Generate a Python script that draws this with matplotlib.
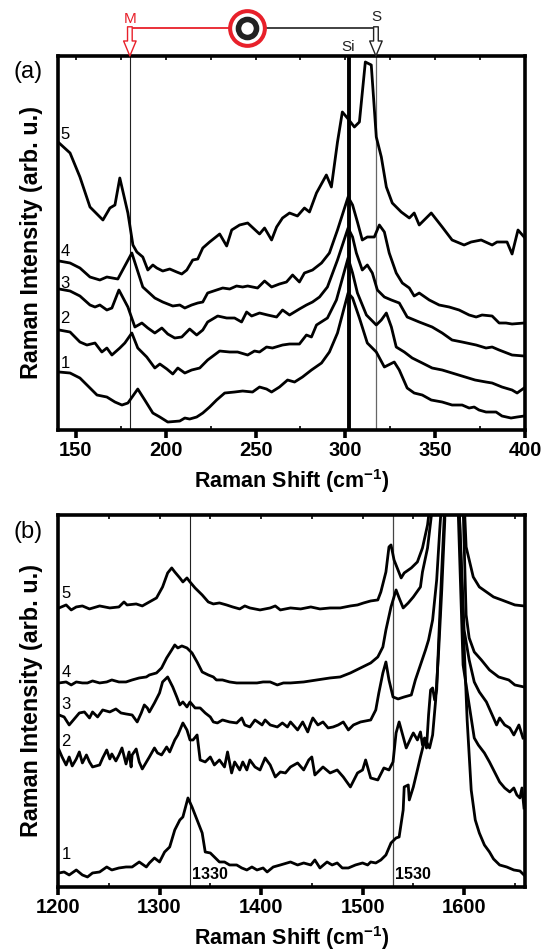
import matplotlib
matplotlib.use("Agg")
import matplotlib.pyplot as plt
import matplotlib.transforms as mtransforms

plt.rcParams['font.family'] = ['Liberation Sans', 'DejaVu Sans']
plt.rcParams['mathtext.fontset'] = 'custom'
plt.rcParams['mathtext.rm'] = 'Liberation Sans'
plt.rcParams['mathtext.bf'] = 'Liberation Sans:bold'

# ---- panel (a): low frequency region, spectra 1..5 (offset, arb. units)
a_x5 = [140.6, 146.7, 152.2, 157.8, 165, 168.9, 171.7, 174.4, 178.9, 181.7, 183.9, 187.2, 190, 192.8, 195, 198.3,
        202.2, 206.1, 208.9, 211.7, 215, 217.8, 220.6, 224.4, 230, 233.9, 236.7, 241.1, 245.6, 252.2, 255, 258.9,
        261.7, 265, 268.9, 273.3, 277.2, 280, 283.9, 289.4, 292.2, 295.6, 298.3, 301.1, 305, 307.8, 311.1, 314.4,
        317.2, 320, 322.8, 326.1, 331.1, 335.6, 338.3, 341.1, 347.8, 353.9, 359.4, 366.1, 370, 375.6, 381.7, 384.4,
        390, 392.8, 396.1, 399.5]
a_y5 = [287, 277, 253, 223, 210, 222, 225, 252, 217, 185, 178, 173, 160, 165, 162, 159, 161, 158, 156, 160, 170, 171,
        182, 188, 196, 184, 200, 205, 207, 196, 202, 190, 203, 212, 217, 214, 222, 218, 237, 255, 243, 288, 318, 312,
        303, 308, 368, 365, 293, 273, 243, 227, 218, 212, 217, 205, 217, 203, 190, 185, 188, 190, 185, 188, 188, 176,
        200, 193]

a_x4 = [140.6, 146.7, 152.2, 157.8, 163.3, 167.2, 173.3, 181.1, 187.2, 193.9, 198.3, 203.9, 207.8, 210.6, 214.4,
        217.8, 220.6, 223.3, 228.3, 231.7, 235.6, 239.4, 242.8, 245.6, 251.1, 255, 258.9, 263.3, 267.2, 270.6, 274.4,
        277.2, 281.7, 286.7, 291.1, 295.6, 301.5, 304, 306.7, 309.4, 312.2, 316.1, 318.9, 321.7, 324.4, 328.3, 331.7,
        335.6, 338.3, 341.1, 346.7, 352.2, 357.8, 363.3, 368.9, 372.8, 376.1, 381.7, 385.6, 389.4, 392.8, 399.5]
a_y4 = [169, 167, 162, 153, 150, 153, 151, 177, 143, 132, 128, 124, 125, 122, 125, 127, 128, 137, 140, 142, 141, 144,
        143, 144, 142, 149, 143, 146, 148, 155, 148, 157, 160, 167, 177, 200, 233, 225, 208, 190, 193, 193, 205, 198,
        177, 157, 147, 142, 134, 137, 130, 125, 123, 120, 115, 113, 115, 114, 107, 107, 106, 107]

a_x3 = [140.6, 146.7, 152.2, 157.8, 160.6, 163.3, 167.2, 170, 173.9, 178.9, 182.8, 186.7, 190, 193.9, 197.8, 201.1,
        205, 208.9, 213.3, 217.2, 220.6, 223.3, 228.9, 233.9, 238.3, 242.2, 245, 247.8, 252.2, 256.7, 261.7, 265,
        268.9, 274.4, 278.3, 281.7, 285.6, 290, 295.6, 301.5, 304, 306.1, 309.4, 312.2, 315, 317.8, 321.7, 325.6, 330,
        334.4, 341.1, 348.3, 353.9, 359.4, 365, 372.8, 378.3, 381.7, 385.6, 392.8, 399.5]
a_y3 = [141, 139, 134, 125, 123, 125, 120, 122, 140, 123, 103, 107, 102, 97, 102, 96, 92, 93, 101, 95, 100, 108, 114,
        112, 112, 108, 118, 114, 117, 115, 113, 120, 115, 121, 125, 128, 133, 143, 170, 202, 193, 177, 160, 165, 157,
        140, 133, 130, 127, 113, 108, 103, 97, 90, 88, 85, 82, 83, 80, 75, 74]

a_x2 = [140.6, 146.7, 152.2, 156.1, 160.6, 164.4, 167.2, 170, 174.4, 177.2, 181.1, 184.4, 189.4, 193.9, 196.7, 200.6,
        203.9, 206.7, 210.6, 214.4, 218.9, 223.3, 230, 235.6, 240, 245.6, 249.4, 252.2, 256.1, 259.4, 265, 268.9,
        274.4, 278.3, 281.1, 283.9, 290, 295, 301.5, 304, 306.7, 311.7, 317.2, 320, 322.8, 325.6, 328.3, 332.8, 337.2,
        342.8, 348.3, 353.9, 359.4, 366.7, 372.2, 378.3, 381.7, 387.2, 392.8, 395.6, 399.5]
a_y2 = [100, 98, 88, 85, 87, 78, 82, 75, 82, 87, 97, 82, 73, 62, 66, 61, 56, 62, 57, 60, 62, 70, 79, 78, 78, 75, 79,
        78, 83, 82, 85, 86, 86, 95, 93, 105, 112, 130, 172, 157, 137, 115, 105, 110, 117, 103, 83, 78, 72, 67, 62, 60,
        57, 53, 50, 48, 47, 43, 40, 37, 42]

a_x1 = [140.6, 146.7, 152.2, 157.8, 161.7, 167.2, 171.7, 175.6, 178.9, 184.4, 188.3, 192.8, 196.7, 201.1, 207.8,
        210.6, 213.3, 217.2, 220.6, 224.4, 228.3, 232.8, 238.3, 242.8, 248.3, 252.2, 256.1, 258.9, 263.3, 267.8, 271.7,
        276.1, 281.1, 286.7, 291.1, 295.6, 301.5, 304, 307.8, 312.2, 317.2, 321.7, 327.2, 330, 334.4, 338.3, 342.8,
        347.8, 353.9, 359.4, 365, 368.9, 371.7, 374.4, 378.3, 383.9, 387.2, 392.2, 395.6, 399.5]
a_y1 = [58, 57, 52, 42, 35, 33, 28, 25, 27, 41, 30, 17, 13, 8, 9, 12, 11, 13, 17, 23, 30, 37, 38, 39, 38, 43, 41, 38,
        43, 50, 48, 53, 60, 67, 78, 97, 137, 132, 112, 87, 78, 63, 68, 60, 42, 37, 35, 30, 28, 25, 25, 22, 23, 20, 18,
        18, 14, 12, 13, 14]

# ---- panel (b): D / G band region
b_x5 = [1201, 1208, 1213, 1218, 1224, 1231, 1241, 1251, 1260, 1265, 1268, 1277, 1283, 1290, 1297, 1303, 1308, 1312,
        1315, 1320, 1323, 1327, 1330, 1335, 1342, 1348, 1353, 1359, 1366, 1372, 1379, 1384, 1389, 1399, 1409, 1414,
        1419, 1429, 1439, 1449, 1458, 1468, 1478, 1488, 1495, 1501, 1508, 1515, 1518, 1523, 1526, 1528, 1531, 1538,
        1541, 1548, 1554, 1559, 1564, 1567, 1585, 1600, 1602, 1609, 1615, 1622, 1629, 1637, 1650, 1659]
b_y5 = [279, 282, 277, 280, 281, 278, 281, 279, 280, 285, 282, 283, 281, 285, 289, 300, 314, 319, 315, 309, 305, 309,
        305, 299, 292, 285, 283, 284, 282, 280, 278, 281, 279, 277, 279, 281, 277, 279, 278, 280, 278, 279, 279, 281,
        282, 284, 286, 287, 295, 315, 340, 342, 327, 309, 314, 319, 325, 339, 362, 387, 1500, 387, 340, 310, 300, 295,
        290, 287, 282, 281]

b_x4 = [1201, 1208, 1213, 1218, 1224, 1229, 1234, 1241, 1248, 1253, 1260, 1267, 1273, 1280, 1287, 1290, 1297, 1302,
        1307, 1312, 1315, 1318, 1322, 1327, 1332, 1337, 1342, 1348, 1353, 1356, 1362, 1369, 1376, 1382, 1389, 1396,
        1402, 1409, 1416, 1422, 1429, 1442, 1455, 1468, 1478, 1488, 1498, 1508, 1515, 1520, 1523, 1528, 1533, 1536,
        1540, 1545, 1550, 1557, 1559, 1564, 1569, 1585, 1599, 1602, 1605, 1610, 1617, 1625, 1634, 1644, 1650, 1659]
b_y4 = [204, 205, 202, 205, 204, 204, 206, 204, 205, 207, 205, 205, 207, 209, 210, 212, 214, 219, 229, 237, 242, 239,
        241, 239, 234, 225, 215, 212, 210, 207, 207, 205, 204, 204, 204, 204, 205, 205, 202, 204, 204, 205, 207, 209,
        210, 214, 219, 224, 230, 240, 257, 280, 297, 289, 279, 284, 290, 300, 315, 339, 382, 1500, 382, 272, 249, 235,
        227, 217, 210, 207, 202, 200]

b_x3 = [1201, 1206, 1211, 1216, 1221, 1226, 1231, 1234, 1239, 1244, 1251, 1257, 1262, 1267, 1273, 1278, 1282, 1285,
        1288, 1290, 1295, 1300, 1303, 1308, 1313, 1317, 1320, 1323, 1327, 1330, 1335, 1340, 1345, 1350, 1353, 1357,
        1362, 1369, 1376, 1381, 1384, 1389, 1394, 1401, 1404, 1409, 1416, 1421, 1426, 1429, 1436, 1441, 1446, 1449,
        1451, 1456, 1461, 1466, 1471, 1476, 1481, 1486, 1491, 1498, 1508, 1513, 1516, 1520, 1523, 1526, 1530, 1535,
        1541, 1548, 1552, 1557, 1562, 1565, 1569, 1573, 1576, 1578, 1585, 1595, 1600, 1605, 1610, 1615, 1622, 1629,
        1632, 1635, 1640, 1645, 1649, 1654, 1658]
b_y3 = [172, 170, 162, 168, 174, 175, 169, 175, 170, 177, 175, 178, 174, 173, 172, 165, 174, 182, 179, 175, 184, 194,
        205, 210, 200, 190, 182, 185, 180, 185, 179, 179, 174, 170, 165, 164, 167, 165, 164, 169, 162, 160, 167, 162,
        167, 162, 160, 164, 160, 165, 157, 165, 155, 164, 169, 162, 165, 159, 160, 162, 165, 157, 162, 165, 167, 177,
        194, 214, 225, 207, 190, 188, 190, 192, 207, 222, 237, 247, 267, 307, 357, 387, 1500, 382, 257, 227, 205, 195,
        185, 169, 162, 169, 162, 159, 152, 162, 149]

b_x2 = [1201, 1204, 1208, 1211, 1214, 1218, 1221, 1224, 1228, 1231, 1234, 1241, 1244, 1248, 1251, 1253, 1257, 1260,
        1263, 1267, 1270, 1272, 1273, 1277, 1280, 1283, 1290, 1295, 1298, 1302, 1307, 1310, 1315, 1318, 1323, 1327,
        1330, 1333, 1337, 1340, 1345, 1350, 1354, 1359, 1364, 1367, 1371, 1374, 1379, 1382, 1386, 1389, 1394, 1399,
        1404, 1409, 1414, 1419, 1424, 1429, 1436, 1442, 1447, 1450, 1453, 1461, 1468, 1475, 1481, 1488, 1495, 1500,
        1503, 1508, 1515, 1521, 1526, 1530, 1533, 1536, 1543, 1548, 1550, 1554, 1557, 1559, 1561, 1563, 1565, 1567,
        1569, 1571, 1573, 1575, 1578, 1581, 1585, 1594, 1599, 1605, 1610, 1614, 1620, 1625, 1630, 1635, 1640, 1645,
        1649, 1652, 1655, 1657, 1659]
b_y2 = [137, 130, 122, 130, 121, 128, 135, 124, 132, 125, 120, 122, 129, 137, 128, 133, 126, 132, 139, 123, 135, 120,
        132, 138, 125, 118, 130, 139, 134, 132, 140, 135, 147, 152, 164, 157, 147, 147, 152, 127, 125, 130, 122, 127,
        120, 135, 114, 125, 117, 125, 117, 127, 120, 117, 129, 122, 110, 115, 114, 120, 124, 117, 127, 130, 112, 120,
        114, 117, 110, 100, 114, 117, 127, 109, 107, 119, 117, 125, 154, 165, 139, 150, 154, 147, 155, 142, 149, 139,
        172, 197, 199, 187, 197, 247, 317, 382, 1500, 382, 222, 182, 149, 142, 134, 125, 115, 105, 99, 95, 99, 92, 89,
        99, 79]

b_x1 = [1201, 1206, 1211, 1218, 1224, 1229, 1234, 1241, 1248, 1253, 1260, 1267, 1273, 1280, 1287, 1290, 1295, 1300,
        1305, 1310, 1315, 1320, 1323, 1328, 1332, 1337, 1342, 1345, 1350, 1354, 1359, 1364, 1369, 1376, 1381, 1386,
        1391, 1396, 1402, 1406, 1412, 1419, 1429, 1436, 1442, 1449, 1453, 1458, 1465, 1470, 1475, 1480, 1486, 1493,
        1500, 1505, 1508, 1513, 1518, 1523, 1528, 1533, 1536, 1540, 1541, 1545, 1546, 1550, 1554, 1557, 1560, 1563,
        1566, 1569, 1572, 1575, 1578, 1581, 1585, 1595, 1599, 1603, 1607, 1611, 1615, 1620, 1625, 1629, 1635, 1642,
        1649, 1655, 1659]
b_y1 = [14, 15, 12, 17, 12, 10, 14, 15, 20, 17, 19, 20, 20, 25, 20, 24, 29, 25, 35, 40, 57, 67, 70, 89, 80, 67, 54, 35,
        34, 30, 25, 25, 22, 22, 19, 17, 20, 17, 19, 15, 20, 22, 25, 22, 24, 22, 27, 19, 25, 22, 24, 19, 19, 22, 24, 22,
        25, 24, 27, 32, 44, 49, 50, 77, 100, 102, 87, 100, 117, 130, 142, 145, 139, 152, 187, 237, 297, 367, 1500, 382,
        267, 167, 97, 67, 54, 42, 35, 28, 22, 20, 17, 16, 12]

a_curves = [(a_x1, a_y1), (a_x2, a_y2), (a_x3, a_y3), (a_x4, a_y4), (a_x5, a_y5)]
b_curves = [(b_x1, b_y1), (b_x2, b_y2), (b_x3, b_y3), (b_x4, b_y4), (b_x5, b_y5)]
a_labels_y = [67, 112, 147, 178, 295]
b_labels_y = [32, 145, 182, 214, 293]


def style_axes(ax, xlim, ylim, major, minor):
    ax.set_xlim(xlim)
    ax.set_ylim(ylim)
    ax.set_xticks(major)
    ax.set_xticks(minor, minor=True)
    ax.set_yticks([])
    for s in ax.spines.values():
        s.set_linewidth(2.6)
    ax.tick_params(axis='x', which='major', direction='out', length=6, width=2.6,
                   labelsize=14.5, pad=2)
    ax.tick_params(axis='x', which='minor', direction='in', length=3, width=1.2)
    for lab in ax.get_xticklabels():
        lab.set_fontweight('bold')
    top = ax.secondary_xaxis('top')
    top.set_xticks(list(major) + list(minor))
    top.tick_params(direction='in', length=3, width=1.2, labeltop=False)
    top.spines['top'].set_visible(False)
    ax.set_xlabel(r'Raman Shift (cm$^{\mathbf{-1}}$)', fontsize=15.5, fontweight='bold', labelpad=5)
    ax.set_ylabel('Raman Intensity (arb. u.)', fontsize=16.8, fontweight='bold', labelpad=11)


fig = plt.figure(figsize=(5.52, 9.52), dpi=100)
ax_a = fig.add_axes([0.1051, 0.5483, 0.846, 0.3929])
ax_b = fig.add_axes([0.1051, 0.0683, 0.846, 0.3908])

# ---- panel (a)
style_axes(ax_a, (140, 400), (0, 374), [150, 200, 250, 300, 350, 400], [175, 225, 275, 325, 375])
ax_a.axvline(180, color='#222222', lw=0.8)
ax_a.axvline(317, color='#666666', lw=0.9)
ax_a.axvline(302, color='black', lw=2.8)
for (x, y), lab, ly in zip(a_curves, ['1', '2', '3', '4', '5'], a_labels_y):
    ax_a.plot(x, y, color='black', lw=2.0)
    ax_a.text(144, ly, lab, fontsize=12, ha='center', va='center')

trans = mtransforms.blended_transform_factory(ax_a.transData, ax_a.transAxes)
red = '#e8202a'
ax_a.plot([180, 245], [1.076, 1.076], color=red, lw=1.3, transform=trans, clip_on=False)
ax_a.plot([245, 317], [1.076, 1.076], color='#333333', lw=1.3, transform=trans, clip_on=False)
ax_a.plot([245], [1.076], marker='o', ms=25, mfc='white', mec=red, mew=2.9, transform=trans, clip_on=False)
ax_a.plot([245], [1.076], marker='o', ms=13, mfc='white', mec='#222222', mew=4, transform=trans, clip_on=False)
for xa, col in [(180, red), (317, '#222222')]:
    ax_a.annotate('', xy=(xa, 1.0), xycoords=trans, xytext=(xa, 1.078), textcoords=trans,
                  arrowprops=dict(arrowstyle='simple,head_length=0.9,head_width=0.75,tail_width=0.28',
                                  fc='white', ec=col, lw=1.0, shrinkA=0, shrinkB=0, mutation_scale=12),
                  annotation_clip=False)
ax_a.text(180, 1.10, 'M', color=red, fontsize=11, ha='center', va='center', transform=trans)
ax_a.text(317, 1.104, 'S', color='#222222', fontsize=11, ha='center', va='center', transform=trans)
ax_a.text(301.5, 1.006, 'Si', color='#222222', fontsize=11, ha='center', va='bottom', transform=trans)

# ---- panel (b)
style_axes(ax_b, (1200, 1660), (0, 372), [1200, 1300, 1400, 1500, 1600], [1250, 1350, 1450, 1550, 1650])
ax_b.axvline(1330, color='#222222', lw=0.8)
ax_b.axvline(1530, color='#444444', lw=0.9)
for (x, y), lab, ly in zip(b_curves, ['1', '2', '3', '4', '5'], b_labels_y):
    ax_b.plot(x, y, color='black', lw=2.0)
    ax_b.text(1208, ly, lab, fontsize=12, ha='center', va='center')
ax_b.text(1331.5, 12, '1330', fontsize=11.5, fontweight='bold', ha='left', va='center')
ax_b.text(1531.5, 12, '1530', fontsize=11.5, fontweight='bold', ha='left', va='center')

fig.text(0.051, 0.924, '(a)', fontsize=17, ha='center', va='center')
fig.text(0.051, 0.441, '(b)', fontsize=17, ha='center', va='center')

fig.savefig('out.png', dpi=100, facecolor='white')
